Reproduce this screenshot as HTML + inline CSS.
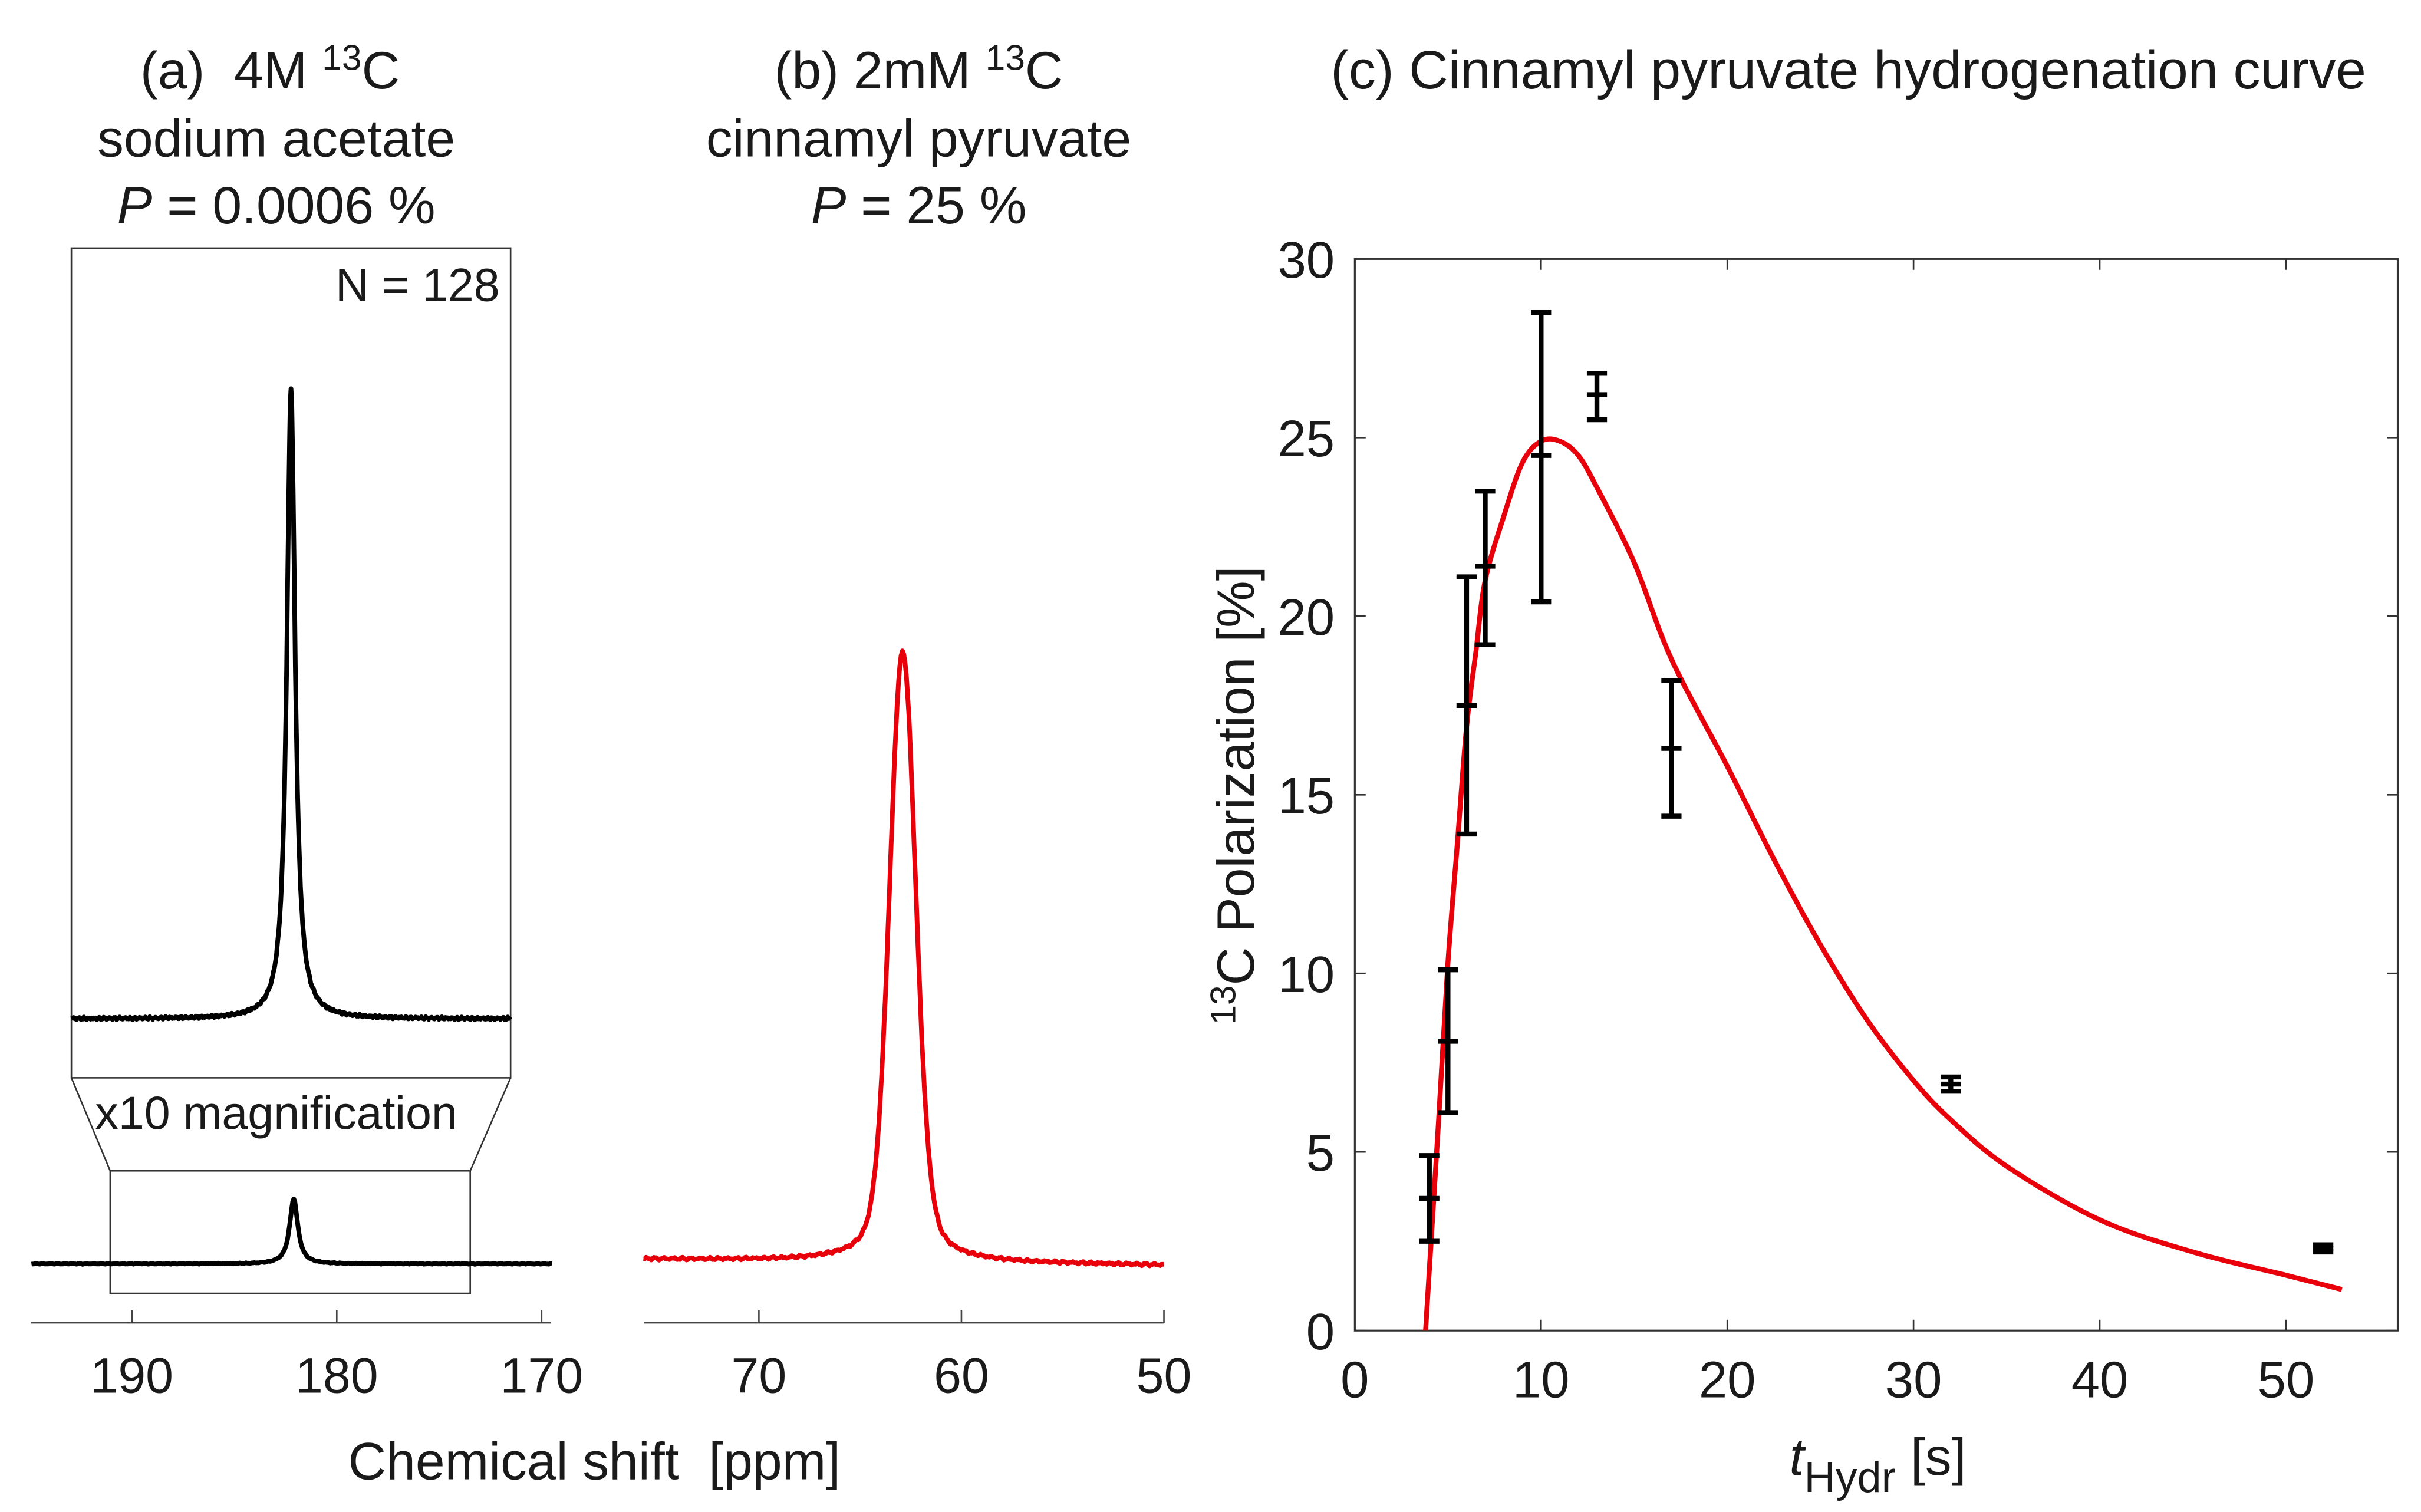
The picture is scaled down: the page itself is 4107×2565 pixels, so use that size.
<!DOCTYPE html>
<html><head><meta charset="utf-8"><style>
html,body{margin:0;padding:0;background:#fff}
svg{display:block}
text{font-family:"Liberation Sans",sans-serif;fill:#1a1a1a}
</style></head><body>
<svg id="fig" width="4107" height="2565" viewBox="0 0 1560 975" preserveAspectRatio="none" xmlns="http://www.w3.org/2000/svg">
<rect width="1560" height="975" fill="#fff"/>
<!-- Titles -->
<g font-size="34" text-anchor="middle">
<text x="174" y="57">(a)&#160;&#160;4M <tspan font-size="23" dy="-12">13</tspan><tspan dy="12">C</tspan></text>
<text x="178" y="101">sodium acetate</text>
<text x="178" y="144"><tspan font-style="italic">P</tspan> = 0.0006 %</text>
</g>
<g font-size="34" text-anchor="middle">
<text x="592" y="57">(b) 2mM <tspan font-size="23" dy="-12">13</tspan><tspan dy="12">C</tspan></text>
<text x="592" y="101">cinnamyl pyruvate</text>
<text x="592" y="144"><tspan font-style="italic">P</tspan> = 25 %</text>
</g>
<text x="1191" y="57" font-size="35" text-anchor="middle">(c) Cinnamyl pyruvate hydrogenation curve</text>

<!-- Panel a -->
<rect x="46" y="160" width="283" height="535" fill="none" stroke="#333" stroke-width="1"/>
<text x="322" y="194" font-size="30" text-anchor="end">N = 128</text>
<text x="178" y="728" font-size="30" text-anchor="middle">x10 magnification</text>
<rect x="71" y="755" width="232" height="79" fill="none" stroke="#333" stroke-width="1"/>
<line x1="46" y1="695" x2="71" y2="755" stroke="#333" stroke-width="1"/>
<line x1="329" y1="695" x2="303" y2="755" stroke="#333" stroke-width="1"/>
<g id="specA"></g>
<g id="axA"></g>

<!-- Panel b -->
<g id="specB"></g>
<g id="axB"></g>
<text x="383" y="954" font-size="34" text-anchor="middle" xml:space="preserve">Chemical shift  [ppm]</text>

<!-- Panel c -->
<g id="plotC"></g>
<text transform="translate(808,513) rotate(-90)" font-size="34" text-anchor="middle"><tspan font-size="23" dy="-12">13</tspan><tspan dy="12">C Polarization [%]</tspan></text>
<text x="1210" y="951" font-size="34" text-anchor="middle"><tspan font-style="italic">t</tspan><tspan font-size="28" dy="11">Hydr</tspan><tspan dy="-11"> [s]</tspan></text>
</svg>
<script>
// ---- Data ----
const tickA = [190, 180, 170];
const tickB = [70, 60, 50];
const acetatePeak = [182.1];      // ppm
const acetateWidth = [0.2];       // HWHM ppm
const pyruvatePeak = [62.9];      // ppm
const pyruvateWidth = [0.75];     // HWHM ppm
const hydrTimes = [4, 5, 6, 7, 10, 13, 17, 32, 52];
const polMean = [3.7, 8.1, 17.5, 21.4, 24.5, 26.2, 16.3, 6.9, 2.3];
const polLow  = [2.5, 6.1, 13.9, 19.2, 20.4, 25.5, 14.4, 6.7, 2.2];
const polHigh = [4.9, 10.1, 21.1, 23.5, 28.5, 26.8, 18.2, 7.1, 2.4];
const fitT = [3.8, 4, 4.5, 5, 5.5, 6, 6.5, 7, 8, 9, 10, 11, 12, 13, 15, 17, 20, 22.5, 25, 27.5, 30, 32, 35, 40, 45, 50, 53];
const fitP = [0, 1.7, 5.9, 10.3, 13.6, 16.9, 19, 21.0, 22.8, 24.3, 24.9, 24.9, 24.5, 23.6, 21.5, 18.8, 15.8, 13.2, 10.8, 8.7, 7.0, 5.9, 4.6, 3.1, 2.2, 1.55, 1.15];
const xTicksC = [0, 10, 20, 30, 40, 50];
const yTicksC = [0, 5, 10, 15, 20, 25, 30];

const NS = "http://www.w3.org/2000/svg";
function mk(tag, attrs, parent){ const e=document.createElementNS(NS,tag); for(const k in attrs) e.setAttribute(k,attrs[k]); parent.appendChild(e); return e; }
function noise(i, s){ return Math.sin(i*0.9+s)*0.5+Math.sin(i*2.3+s*2)*0.3+Math.sin(i*5.1+s*3)*0.2; }

// ---- Panel a axis ----
const axA = document.getElementById('axA');
const xA = p => 85 + (190 - p) * 13.2;
mk('line',{x1:20,y1:853,x2:355,y2:853,stroke:'#444','stroke-width':1},axA);
tickA.forEach(t=>{
  const l=mk('line',{x1:xA(t),y1:853,x2:xA(t),y2:845,stroke:'#444','stroke-width':1},axA);
  
  
  const tx=mk('text',{x:xA(t),y:898,'font-size':32,'text-anchor':'middle'},axA);
  tx.textContent=t;
  
  
});
// acetate spectra
const specA = document.getElementById('specA');
function lor(p,c,g){ return g*g/(g*g+(p-c)*(p-c)); }
let dLow='', dHigh='';
for(let i=0;i<=500;i++){
  const p = 194.9 - i*(194.9-169.5)/500;
  const y = 815 - 42*lor(p,acetatePeak[0],acetateWidth[0]*1.2) + noise(i,1)*0.3;
  dLow += (i?'L':'M')+xA(p).toFixed(1)+' '+y.toFixed(1);
}
const xAz = p => 46 + (191 - p) * (283/17.8);
for(let i=0;i<=600;i++){
  const p = 191 - i*17.8/600;
  const y = 657 - 407*lor(p,acetatePeak[0],acetateWidth[0]) + noise(i,2)*1.0;
  dHigh += (i?'L':'M')+xAz(p).toFixed(1)+' '+y.toFixed(1);
}
let pa=mk('path',{d:dLow,fill:'none',stroke:'#000','stroke-width':3,'stroke-linejoin':'round'},specA);


pa=mk('path',{d:dHigh,fill:'none',stroke:'#000','stroke-width':3,'stroke-linejoin':'round'},specA);



// ---- Panel b ----
const axB = document.getElementById('axB');
const xB = p => 489 + (70 - p) * 13.05;
mk('line',{x1:415,y1:853,x2:750,y2:853,stroke:'#444','stroke-width':1},axB);
tickB.forEach(t=>{
  const l=mk('line',{x1:xB(t),y1:853,x2:xB(t),y2:845,stroke:'#444','stroke-width':1},axB);
  
  
  const tx=mk('text',{x:xB(t),y:898,'font-size':32,'text-anchor':'middle'},axB);
  tx.textContent=t;
  
  
});
const specB=document.getElementById('specB');
let dB='';
for(let i=0;i<=400;i++){
  const p = 75.7 - i*25.7/400;
  const d = p-pyruvatePeak[0], g=pyruvateWidth[0];
  const shape = 0.75*Math.exp(-d*d/(2*(g*0.85)*(g*0.85))) + 0.25*lor(p,pyruvatePeak[0],g*1.2);
  const base = 812 + (75.7-p)/25.7*4;
  const y = base - 394*shape + noise(i,3)*1.1;
  dB += (i?'L':'M')+xB(p).toFixed(1)+' '+y.toFixed(1);
}
pa=mk('path',{d:dB,fill:'none',stroke:'#e8000b','stroke-width':3,'stroke-linejoin':'round'},specB);



// ---- Panel c ----
const plotC=document.getElementById('plotC');
const X0=873, X1=1545, Y0=858, Y1=167;
const xC = t => X0 + t*(1473-873)/50;
const yC = v => Y0 - v*(Y0-Y1)/30;
const box=mk('rect',{x:X0,y:Y1,width:X1-X0,height:Y0-Y1,fill:'none',stroke:'#333','stroke-width':1.2},plotC);


xTicksC.forEach(t=>{
  mk('line',{x1:xC(t),y1:Y0,x2:xC(t),y2:Y0-7,stroke:'#333','stroke-width':1},plotC);
  mk('line',{x1:xC(t),y1:Y1,x2:xC(t),y2:Y1+7,stroke:'#333','stroke-width':1},plotC);
  const tx=mk('text',{x:xC(t),y:Y0+43,'font-size':33,'text-anchor':'middle'},plotC);
  tx.textContent=t;
  
  
});
yTicksC.forEach(v=>{
  mk('line',{x1:X0,y1:yC(v),x2:X0+7,y2:yC(v),stroke:'#333','stroke-width':1},plotC);
  mk('line',{x1:X1,y1:yC(v),x2:X1-7,y2:yC(v),stroke:'#333','stroke-width':1},plotC);
  const tx=mk('text',{x:X0-13,y:yC(v)+12,'font-size':33,'text-anchor':'end'},plotC);
  tx.textContent=v;
  
  
});
// smooth curve (Catmull-Rom) through fit points
const pts = fitT.map((t,i)=>[xC(t), yC(fitP[i])]);
let dF='M'+pts[0][0].toFixed(1)+' '+pts[0][1].toFixed(1);
for(let i=0;i<pts.length-1;i++){
  const p0=pts[Math.max(0,i-1)], p1=pts[i], p2=pts[i+1], p3=pts[Math.min(pts.length-1,i+2)];
  const c1=[p1[0]+(p2[0]-p0[0])/6, p1[1]+(p2[1]-p0[1])/6];
  const c2=[p2[0]-(p3[0]-p1[0])/6, p2[1]-(p3[1]-p1[1])/6];
  dF+='C'+c1[0].toFixed(1)+' '+c1[1].toFixed(1)+' '+c2[0].toFixed(1)+' '+c2[1].toFixed(1)+' '+p2[0].toFixed(1)+' '+p2[1].toFixed(1);
}
const fit=mk('path',{d:dF,fill:'none',stroke:'#e8000b','stroke-width':3.2,'stroke-linejoin':'round'},plotC);


hydrTimes.forEach((t,i)=>{
  const g=mk('g',{stroke:'#000','stroke-width':3.2},plotC);
  
  
  const x=xC(t), w=6.5;
  mk('line',{x1:x,y1:yC(polLow[i]),x2:x,y2:yC(polHigh[i])},g);
  mk('line',{x1:x-w,y1:yC(polLow[i]),x2:x+w,y2:yC(polLow[i])},g);
  mk('line',{x1:x-w,y1:yC(polHigh[i]),x2:x+w,y2:yC(polHigh[i])},g);
  mk('line',{x1:x-w,y1:yC(polMean[i]),x2:x+w,y2:yC(polMean[i])},g);
});
</script>
</body></html>
